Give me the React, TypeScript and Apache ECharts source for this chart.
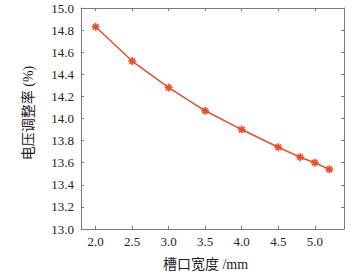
import React, { useEffect, useRef } from "react";
import * as echarts from "echarts";

const widths = [2.0, 2.5, 3.0, 3.5, 4.0, 4.5, 4.8, 5.0, 5.2];
const regulation = [14.83, 14.52, 14.28, 14.07, 13.9, 13.74, 13.65, 13.6, 13.54];
const xTicks = [2.0, 2.5, 3.0, 3.5, 4.0, 4.5, 5.0];

const AXIS = "#7a7a7a";
const TXT = "#222";
const FONT = "Liberation Serif, Noto Sans CJK SC, serif";

export default function App() {
  const ref = useRef<HTMLDivElement>(null);
  useEffect(() => {
    const chart = echarts.init(ref.current!, null, { renderer: "svg" });
    const star = "path://M0,-5L0,5M-5,0L5,0M-3.5,-3.5L3.5,3.5M-3.5,3.5L3.5,-3.5";
    const xCommon = {
      type: "value" as const,
      min: 1.8,
      max: 5.4,
      axisLine: { show: true, lineStyle: { color: AXIS, width: 1 } },
      axisTick: {
        show: true,
        inside: true,
        length: 3,
        lineStyle: { color: AXIS },
        customValues: xTicks,
      },
      splitLine: { show: false },
    };
    const yCommon = {
      type: "value" as const,
      min: 13.0,
      max: 15.0,
      interval: 0.2,
      axisLine: { show: true, lineStyle: { color: AXIS, width: 1 } },
      axisTick: { show: true, inside: true, length: 3, lineStyle: { color: AXIS } },
      splitLine: { show: false },
    };
    chart.setOption({
      animation: false,
      textStyle: { fontFamily: FONT },
      grid: { left: 81, right: 11, top: 8, bottom: 44, containLabel: false },
      xAxis: [
        {
          ...xCommon,
          position: "bottom",
          name: "槽口宽度 /mm",
          nameLocation: "middle",
          nameGap: 28,
          nameTextStyle: { color: TXT, fontSize: 14, fontFamily: FONT, padding: [0, 14, 0, 0] },
          axisLabel: {
            show: true,
            color: TXT,
            fontSize: 13,
            fontFamily: FONT,
            margin: 6,
            customValues: xTicks,
            formatter: (v: number) => v.toFixed(1),
          },
        },
        {
          ...xCommon,
          position: "top",
          axisLabel: { show: false },
        },
      ],
      yAxis: [
        {
          ...yCommon,
          position: "left",
          name: "电压调整率 (%)",
          nameLocation: "middle",
          nameGap: 46,
          nameRotate: 90,
          nameTextStyle: { color: TXT, fontSize: 14, fontFamily: FONT, padding: [0, 0, 0, 11] },
          axisLabel: {
            color: TXT,
            fontSize: 13,
            fontFamily: FONT,
            margin: 7,
            formatter: (v: number) => v.toFixed(1),
          },
        },
        {
          ...yCommon,
          position: "right",
          axisLabel: { show: false },
        },
      ],
      series: [
        {
          type: "line",
          xAxisIndex: 0,
          yAxisIndex: 0,
          data: widths.map((w, i) => [w, regulation[i]]),
          lineStyle: { color: "#e5502b", width: 1.5 },
          symbol: star,
          symbolSize: 8,
          itemStyle: { color: "#e5502b", borderColor: "#e5502b", borderWidth: 1.6 },
          showSymbol: true,
        },
      ],
    });
    return () => chart.dispose();
  }, []);
  return <div ref={ref} style={{ width: 355, height: 276, position: "absolute", left: 0, top: 0 }} />;
}
